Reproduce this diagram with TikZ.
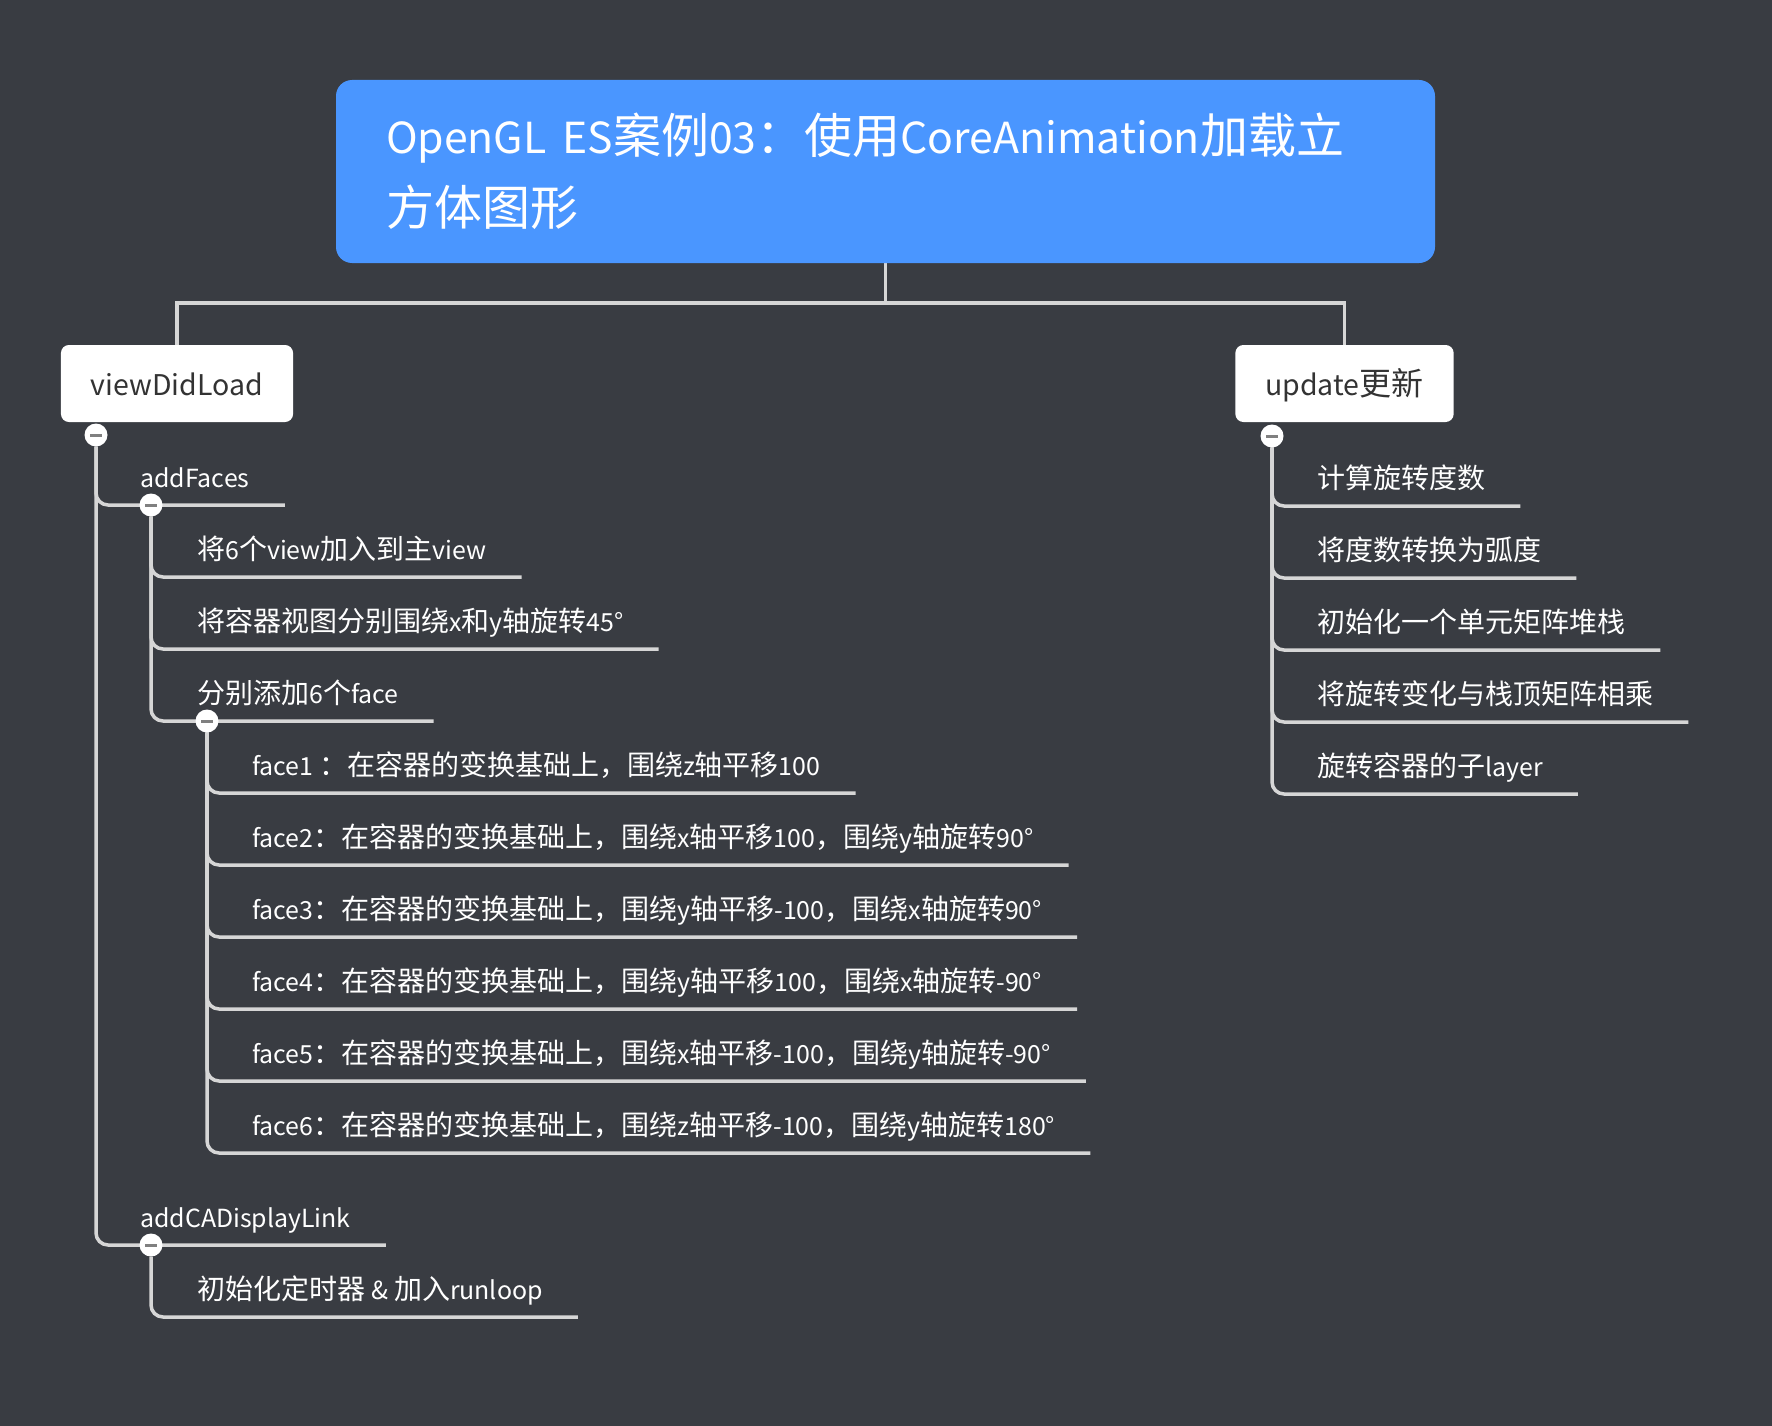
\documentclass[tikz,border=0pt]{standalone}
\usepackage{fontspec}
\setmainfont{Noto Sans CJK SC}
\newfontfamily\cjk{Noto Sans CJK SC}
\newfontfamily\lat{Noto Sans CJK SC}[Scale=0.89]
% narrower Latin letters next to the ideographs
\makeatletter
\count@="4E00
\loop\XeTeXcharclass\count@=1 \advance\count@ 1 \ifnum\count@<"A000 \repeat
\count@="3000
\loop\XeTeXcharclass\count@=3 \advance\count@ 1 \ifnum\count@<"3040 \repeat
\count@="FF00
\loop\XeTeXcharclass\count@=3 \advance\count@ 1 \ifnum\count@<"FFF0 \repeat
\makeatother
\XeTeXinterchartoks 0 1 = {\cjk}
\XeTeXinterchartoks 0 3 = {\cjk}
\XeTeXinterchartoks 4095 1 = {\cjk}
\XeTeXinterchartoks 4095 3 = {\cjk}
\XeTeXinterchartoks 1 0 = {\lat}
\XeTeXinterchartoks 3 0 = {\lat}
\XeTeXinterchartoks 4095 0 = {\lat}
\usetikzlibrary{positioning}
\definecolor{canvas}{HTML}{393C42}
\definecolor{title blue}{HTML}{4A96FF}
\definecolor{line gray}{HTML}{D6D6D6}
\definecolor{box text}{HTML}{333333}
\pgfdeclarelayer{back}
\pgfsetlayers{back,main}

\begin{document}
\XeTeXinterchartokenstate=1
\begin{tikzpicture}[x=1pt, y=-1pt,
    topic/.style={fill=white, rounded corners=8pt, minimum height=77pt, inner xsep=30pt, text height=29pt, text depth=6pt, text=box text, font=\fontsize{32}{32}\selectfont},
    item/.style={anchor=south west, inner sep=0pt, text height=22pt, text depth=17pt, text=white, font=\fontsize{28}{28}\selectfont},
    fold/.style={circle, fill=white, minimum size=23pt, inner sep=0pt, path picture={\draw[gray, line width=3pt] ([xshift=-6pt]path picture bounding box.center) -- ([xshift=6pt]path picture bounding box.center);}},
    connector/.style={draw=line gray, line width=3.5pt, rounded corners=12pt}]
    \node[fill=title blue, rounded corners=16pt, minimum height=183pt, text width=999pt, inner xsep=50pt, align=left, text=white, font=\fontsize{48}{72}\selectfont] (title) at (885.5,171.5) {OpenGL ES案例03：使用CoreAnimation加载立\\方体图形};
    \node[topic] (view did load) at (177,383.5) {viewDidLoad};
    \node[topic] (update) at (1344.5,383.5) {update更新};

    % viewDidLoad branch
    \node[fold] (fold 0) at (96,435) {};
    \node[item] (add faces) at (140,505) {addFaces};
    \node[fold] (fold 1) at (151,505) {};
    \node[item] (add views) at (197,577) {将6个view加入到主view};
    \node[item] (rotate box) at (197,649) {将容器视图分别围绕x和y轴旋转45°};
    \node[item] (six faces) at (197,721) {分别添加6个face};
    \node[fold] (fold 2) at (207,721) {};
    \node[item] (face 1) at (252,793) {face1 ：在容器的变换基础上，围绕z轴平移100};
    \node[item] (face 2) at (252,865) {face2：在容器的变换基础上，围绕x轴平移100，围绕y轴旋转90°};
    \node[item] (face 3) at (252,937) {face3：在容器的变换基础上，围绕y轴平移-100，围绕x轴旋转90°};
    \node[item] (face 4) at (252,1009) {face4：在容器的变换基础上，围绕y轴平移100，围绕x轴旋转-90°};
    \node[item] (face 5) at (252,1081) {face5：在容器的变换基础上，围绕x轴平移-100，围绕y轴旋转-90°};
    \node[item] (face 6) at (252,1153) {face6：在容器的变换基础上，围绕z轴平移-100，围绕y轴旋转180°};
    \node[item] (display link) at (140,1245) {addCADisplayLink};
    \node[fold] (fold 3) at (151,1245) {};
    \node[item] (timer) at (197,1317) {初始化定时器 \& 加入runloop};

    % update branch
    \node[fold] (fold 4) at (1272,436) {};
    \node[item] (angle) at (1317,506) {计算旋转度数};
    \node[item] (radian) at (1317,578) {将度数转换为弧度};
    \node[item] (stack) at (1317,650) {初始化一个单元矩阵堆栈};
    \node[item] (multiply) at (1317,722) {将旋转变化与栈顶矩阵相乘};
    \node[item] (sublayer) at (1317,794) {旋转容器的子layer};

    \begin{pgfonlayer}{back}
    \fill[canvas] (0,0) rectangle (1772,1426);
    \draw[connector, rounded corners=0pt] (title.south) -- ([yshift=-40pt]title.south);
    \draw[connector, rounded corners=0pt] (view did load.north) |- ([yshift=-40pt]title.south) -| (update.north);
    \draw[connector] (fold 0) |- ([xshift=35pt]add faces.south east);
    \draw[connector] (fold 0) |- ([xshift=35pt]display link.south east);
    \draw[connector] (fold 1) |- ([xshift=35pt]add views.south east);
    \draw[connector] (fold 1) |- ([xshift=35pt]rotate box.south east);
    \draw[connector] (fold 1) |- ([xshift=35pt]six faces.south east);
    \draw[connector] (fold 2) |- ([xshift=35pt]face 1.south east);
    \draw[connector] (fold 2) |- ([xshift=35pt]face 2.south east);
    \draw[connector] (fold 2) |- ([xshift=35pt]face 3.south east);
    \draw[connector] (fold 2) |- ([xshift=35pt]face 4.south east);
    \draw[connector] (fold 2) |- ([xshift=35pt]face 5.south east);
    \draw[connector] (fold 2) |- ([xshift=35pt]face 6.south east);
    \draw[connector] (fold 3) |- ([xshift=35pt]timer.south east);
    \draw[connector] (fold 4) |- ([xshift=35pt]angle.south east);
    \draw[connector] (fold 4) |- ([xshift=35pt]radian.south east);
    \draw[connector] (fold 4) |- ([xshift=35pt]stack.south east);
    \draw[connector] (fold 4) |- ([xshift=35pt]multiply.south east);
    \draw[connector] (fold 4) |- ([xshift=35pt]sublayer.south east);
    \end{pgfonlayer}
\end{tikzpicture}
\end{document}
